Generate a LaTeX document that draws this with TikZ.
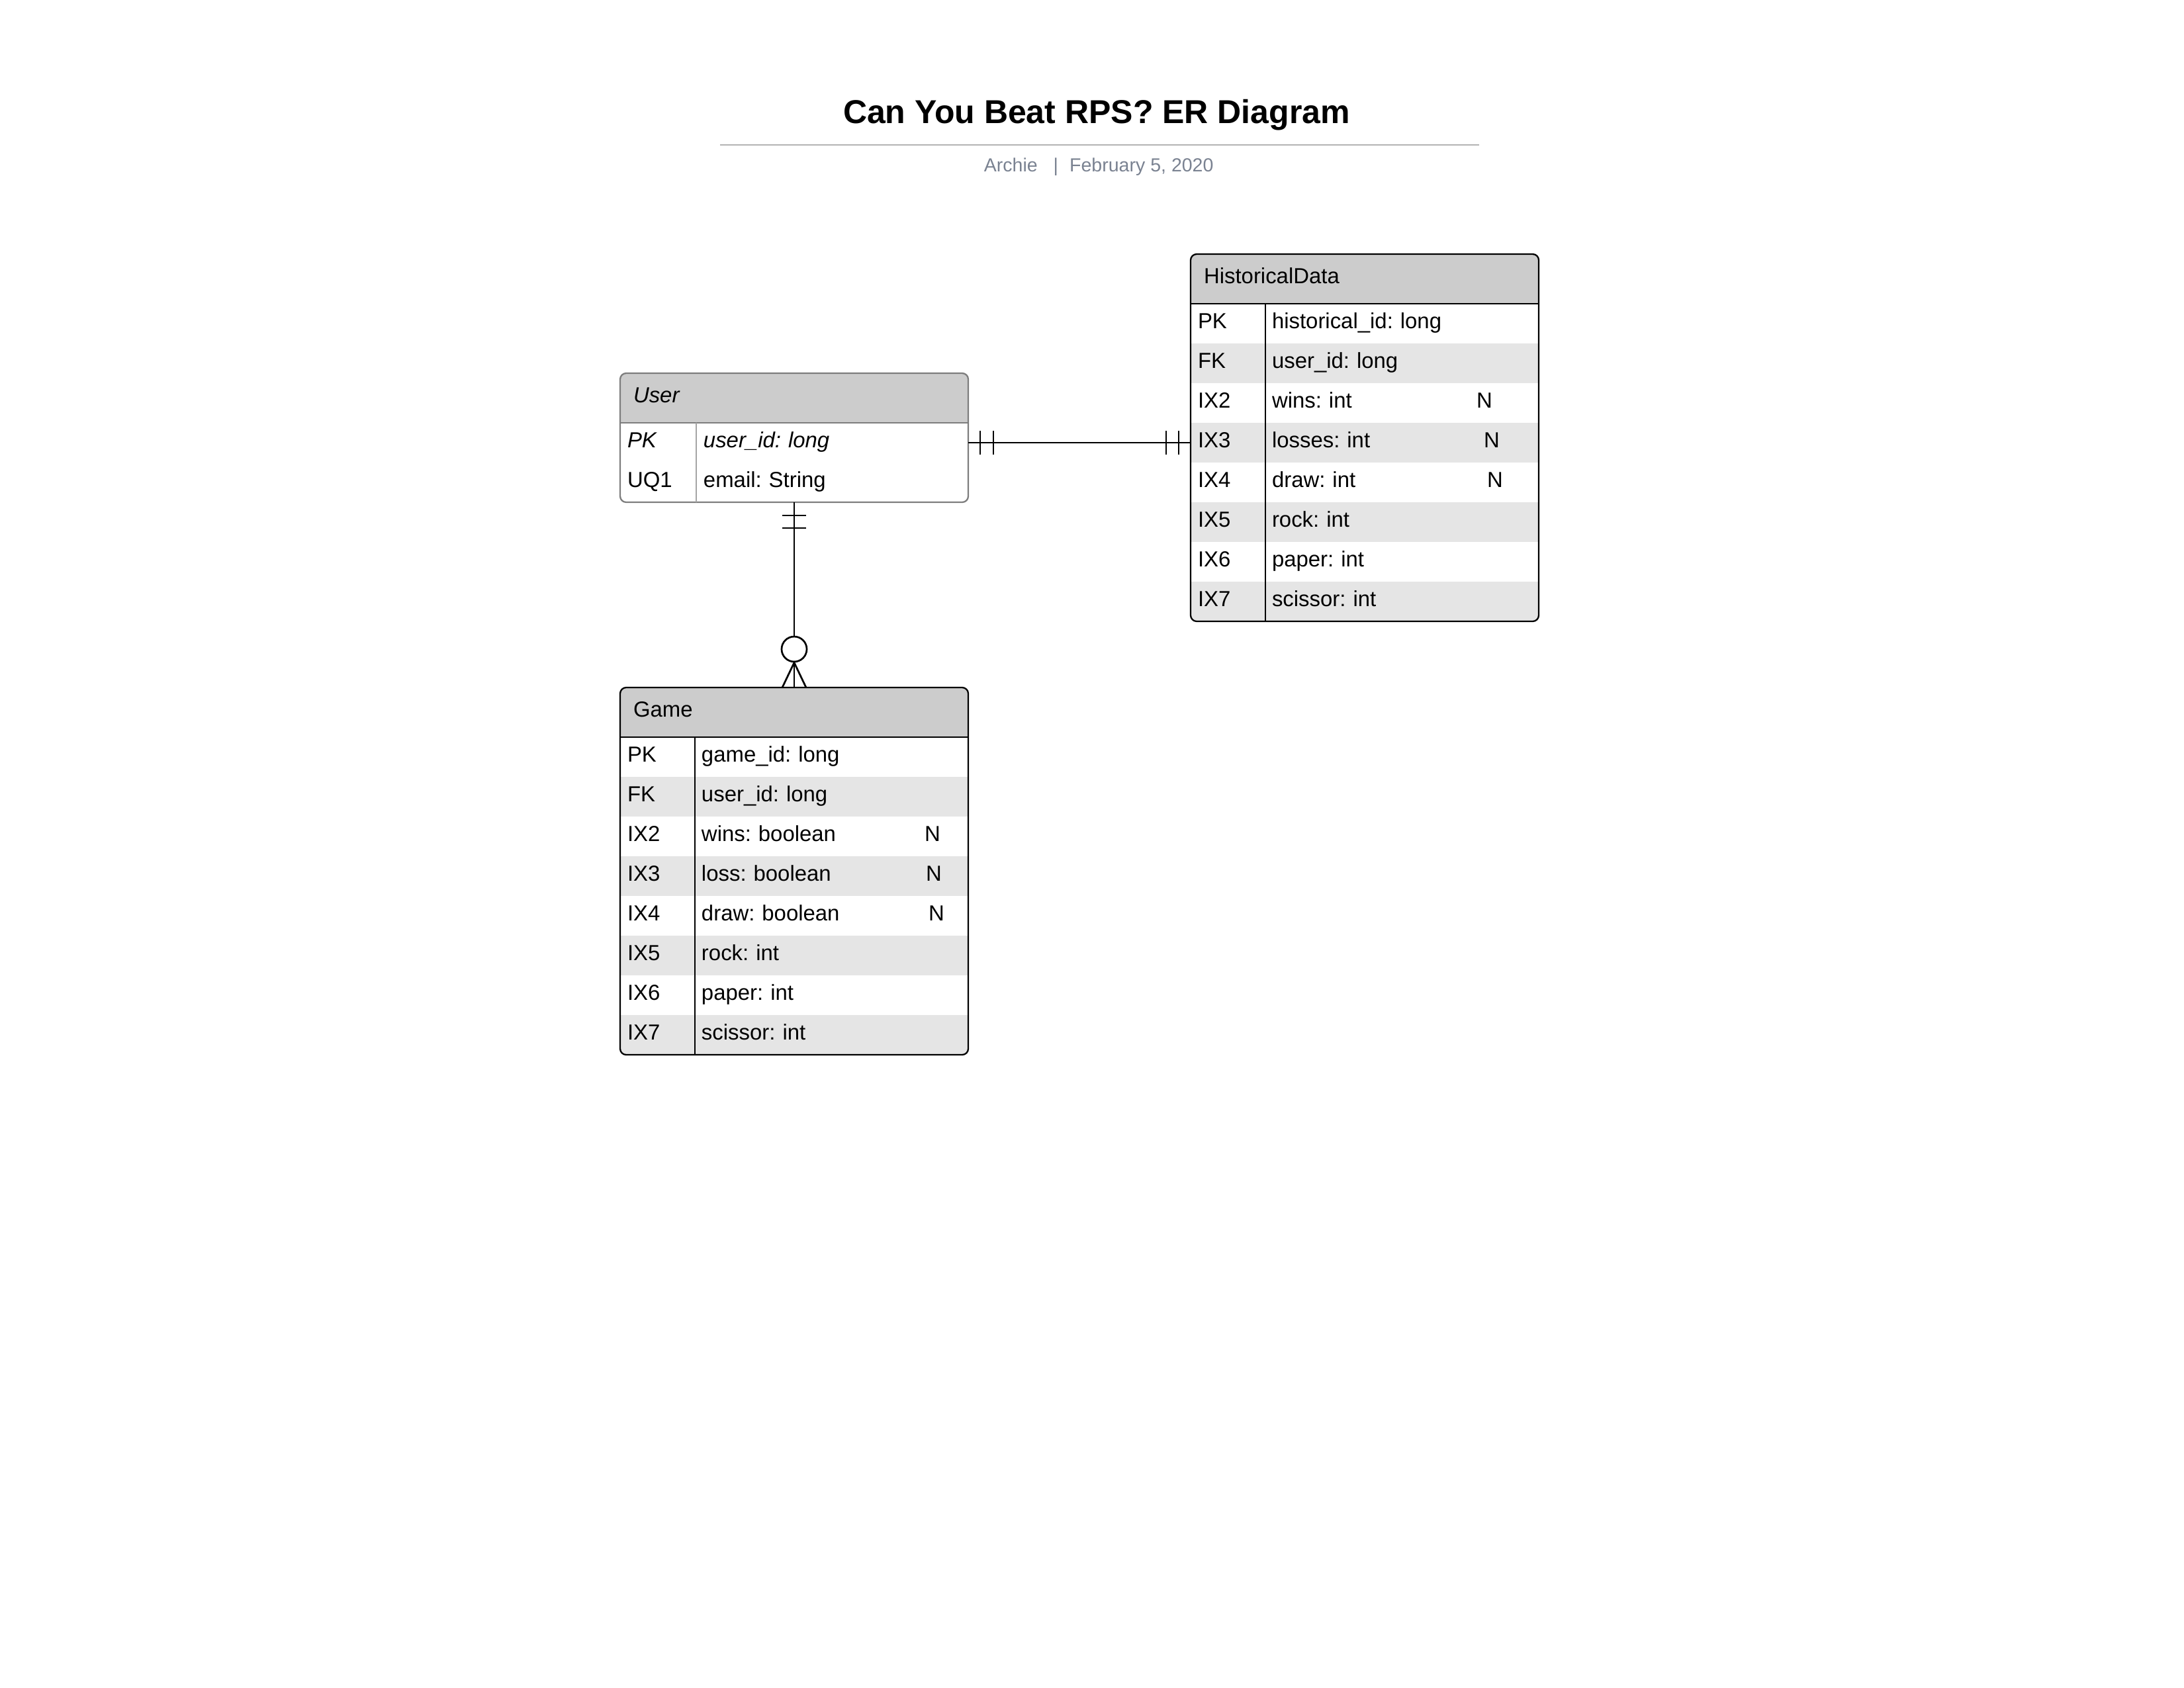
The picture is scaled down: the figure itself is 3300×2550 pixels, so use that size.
\documentclass[tikz,border=0pt]{standalone}
\usepackage{fontspec}
\setmainfont{Liberation Sans}
\frenchspacing
\usetikzlibrary{positioning, backgrounds}
\definecolor{headgray}{RGB}{204,204,204}
\definecolor{rowgray}{RGB}{229,229,229}
\definecolor{userline}{RGB}{125,125,125}
\definecolor{userdiv}{RGB}{165,165,165}
\definecolor{rulegray}{RGB}{179,179,179}
\definecolor{bylinecolor}{RGB}{122,130,145}
\newdimen\pxu \pxu=0.24pt
\newcommand{\rowfont}{\fontsize{7.9pt}{9.5pt}\selectfont}
\newcommand{\keycol}[2][112]{\makebox[#1\pxu][l]{#2}}

\begin{document}
\begin{tikzpicture}[
    x=0.24pt, y=-0.24pt,
    entityhead/.style={anchor=north west, inner xsep=20\pxu, inner ysep=0pt, outer sep=0pt, text width=486\pxu, minimum height=75\pxu, text height=22\pxu, text depth=8\pxu, align=left, font=\rowfont},
    attr/.style={inner xsep=11\pxu, inner ysep=0pt, outer sep=0pt, text width=504\pxu, minimum height=60\pxu, text height=22\pxu, text depth=8\pxu, align=left, font=\rowfont},
    tableline/.style={line width=0.55pt, black},
    relline/.style={line width=0.65pt, black},
    crowcircle/.style={circle, draw, line width=0.65pt, fill=white, minimum size=38\pxu, inner sep=0pt}
]
    \useasboundingbox (0,0) rectangle (3300,2550);

    % Title block
    \node[anchor=base, font=\bfseries\fontsize{12pt}{14pt}\selectfont] (title) at (1657,186) {Can You Beat RPS? ER Diagram};
    \draw[rulegray, line width=0.7pt] (1088,219) -- (2235,219);
    \node[anchor=base west, inner sep=0pt, text=bylinecolor, font=\fontsize{6.85pt}{8pt}\selectfont] (byline) at (1486,259) {Archie\hspace{24\pxu}|\hspace{17\pxu}February 5, 2020};

    % User
    \node[entityhead, font=\rowfont\itshape] (user) at (937,564) {User};
    \node[attr, font=\rowfont\itshape, below=0pt of user] (user-pk) {\keycol[115]{PK}user\_id: long};
    \node[attr, below=0pt of user-pk] (user-uq) {\keycol[115]{UQ1}email: String};
    \begin{scope}[on background layer]
      \begin{scope}
        \clip[rounded corners=2.2pt] (user.north west) rectangle (user-uq.south east);
        \fill[headgray] (user.north west) rectangle (user.south east);
      \end{scope}
    \end{scope}
    \draw[tableline, userline, rounded corners=2.2pt] (user.north west) rectangle (user-uq.south east);
    \draw[tableline, userline] (user.south west) -- (user.south east);
    \draw[userdiv, line width=0.35pt] ([xshift=115\pxu]user.south west) -- ([xshift=115\pxu]user-uq.south west);

    % HistoricalData
    \node[entityhead] (hist) at (1799,384) {HistoricalData};
    \node[attr, below=0pt of hist] (hist-pk) {\keycol{PK}historical\_id: long};
    \node[attr, below=0pt of hist-pk] (hist-fk) {\keycol{FK}user\_id: long};
    \node[attr, below=0pt of hist-fk] (hist-ix2) {\keycol{IX2}\makebox[309\pxu][l]{wins: int}N};
    \node[attr, below=0pt of hist-ix2] (hist-ix3) {\keycol{IX3}\makebox[320\pxu][l]{losses: int}N};
    \node[attr, below=0pt of hist-ix3] (hist-ix4) {\keycol{IX4}\makebox[325\pxu][l]{draw: int}N};
    \node[attr, below=0pt of hist-ix4] (hist-ix5) {\keycol{IX5}rock: int};
    \node[attr, below=0pt of hist-ix5] (hist-ix6) {\keycol{IX6}paper: int};
    \node[attr, below=0pt of hist-ix6] (hist-ix7) {\keycol{IX7}scissor: int};
    \begin{scope}[on background layer]
      \begin{scope}
        \clip[rounded corners=2.2pt] (hist.north west) rectangle (hist-ix7.south east);
        \fill[headgray] (hist.north west) rectangle (hist.south east);
        \fill[rowgray] (hist-fk.north west) rectangle (hist-fk.south east);
        \fill[rowgray] (hist-ix3.north west) rectangle (hist-ix3.south east);
        \fill[rowgray] (hist-ix5.north west) rectangle (hist-ix5.south east);
        \fill[rowgray] (hist-ix7.north west) rectangle (hist-ix7.south east);
      \end{scope}
    \end{scope}
    \draw[tableline, rounded corners=2.2pt] (hist.north west) rectangle (hist-ix7.south east);
    \draw[tableline] (hist.south west) -- (hist.south east);
    \draw[tableline] ([xshift=113\pxu]hist.south west) -- ([xshift=113\pxu]hist-ix7.south west);

    % Game
    \node[entityhead] (game) at (937,1039) {Game};
    \node[attr, below=0pt of game] (game-pk) {\keycol{PK}game\_id: long};
    \node[attr, below=0pt of game-pk] (game-fk) {\keycol{FK}user\_id: long};
    \node[attr, below=0pt of game-fk] (game-ix2) {\keycol{IX2}\makebox[337\pxu][l]{wins: boolean}N};
    \node[attr, below=0pt of game-ix2] (game-ix3) {\keycol{IX3}\makebox[339\pxu][l]{loss: boolean}N};
    \node[attr, below=0pt of game-ix3] (game-ix4) {\keycol{IX4}\makebox[343\pxu][l]{draw: boolean}N};
    \node[attr, below=0pt of game-ix4] (game-ix5) {\keycol{IX5}rock: int};
    \node[attr, below=0pt of game-ix5] (game-ix6) {\keycol{IX6}paper: int};
    \node[attr, below=0pt of game-ix6] (game-ix7) {\keycol{IX7}scissor: int};
    \begin{scope}[on background layer]
      \begin{scope}
        \clip[rounded corners=2.2pt] (game.north west) rectangle (game-ix7.south east);
        \fill[headgray] (game.north west) rectangle (game.south east);
        \fill[rowgray] (game-fk.north west) rectangle (game-fk.south east);
        \fill[rowgray] (game-ix3.north west) rectangle (game-ix3.south east);
        \fill[rowgray] (game-ix5.north west) rectangle (game-ix5.south east);
        \fill[rowgray] (game-ix7.north west) rectangle (game-ix7.south east);
      \end{scope}
    \end{scope}
    \draw[tableline, rounded corners=2.2pt] (game.north west) rectangle (game-ix7.south east);
    \draw[tableline] (game.south west) -- (game.south east);
    \draw[tableline] ([xshift=113\pxu]game.south west) -- ([xshift=113\pxu]game-ix7.south west);

    % User -- HistoricalData (one to one)
    \draw[relline] (user-pk.east) -- (hist-ix3.west);
    \draw[relline] (user-pk.east) ++(18,-18) -- ++(0,36);
    \draw[relline] (user-pk.east) ++(38,-18) -- ++(0,36);
    \draw[relline] (hist-ix3.west) ++(-18,-18) -- ++(0,36);
    \draw[relline] (hist-ix3.west) ++(-37,-18) -- ++(0,36);

    % User -- Game (one to zero or many)
    \node[crowcircle] (crow) at (1200,981) {};
    \draw[relline] (user-uq.south) -- (crow.north);
    \draw[relline] (user-uq.south) ++(-18,20) -- ++(36,0);
    \draw[relline] (user-uq.south) ++(-18,39) -- ++(36,0);
    \draw[relline] (crow.south) -- (game.north);
    \draw[relline] ([xshift=-18\pxu]game.north) -- (crow.south) -- ([xshift=18\pxu]game.north);
\end{tikzpicture}
\end{document}
